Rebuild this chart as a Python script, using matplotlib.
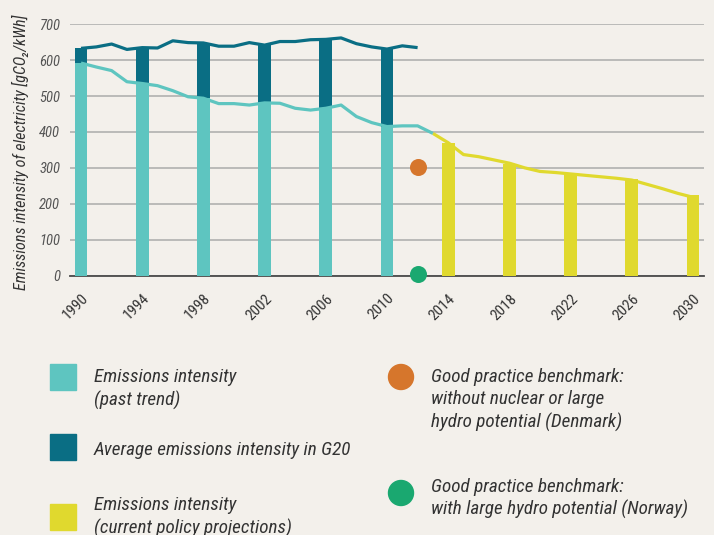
import numpy as np
import matplotlib
matplotlib.use("Agg")
import matplotlib.pyplot as plt
from matplotlib import font_manager as fm
from matplotlib.transforms import ScaledTranslation
from matplotlib.patches import Rectangle, Ellipse

# ---------------- data ----------------
years_g20 = list(range(1990, 2013))
g20_line = [633, 637, 645, 630, 635, 634, 654, 649, 648, 639, 639, 649, 642,
            652, 652, 657, 658, 662, 646, 637, 631, 640, 635]

years_past = list(range(1990, 2014))
past_line = [592, 581, 571, 540, 535, 529, 515, 498, 494, 479, 479, 475, 481,
             480, 466, 461, 466, 475, 443, 426, 415, 417, 417, 396]

years_proj = list(range(2013, 2031))
proj_line = [396, 370, 337, 331, 322, 313, 300, 290, 287, 283, 279, 275, 271,
             266, 254, 242, 229, 218]

bar_years_past = [1990, 1994, 1998, 2002, 2006, 2010]
bar_past = [593, 535, 495, 481, 468, 414]
bar_g20_top = [633, 636, 648, 643, 659, 631]

bar_years_proj = [2014, 2018, 2022, 2026, 2030]
bar_proj = [368, 312, 285, 269, 224]

bench_year = [2012]
bench_denmark = [301]
bench_norway = [5]

xtick_years = [1990, 1994, 1998, 2002, 2006, 2010, 2014, 2018, 2022, 2026, 2030]
yticks = [0, 100, 200, 300, 400, 500, 600, 700]

# ---------------- style ----------------
names = {f.name for f in fm.fontManager.ttflist}
fam = next((n for n in ['Liberation Sans Narrow', 'Roboto Condensed',
                        'Open Sans Condensed', 'Liberation Sans'] if n in names), 'DejaVu Sans')
plt.rcParams['font.family'] = [fam, 'DejaVu Sans']

BG = '#F3F0EB'
LIGHT = '#5EC5C0'
DARK = '#0A6E84'
YEL = '#E0D92E'
ORANGE = '#D6762C'
GREEN = '#1AA870'
TXT = '#333333'

W, H = 714, 535
fig = plt.figure(figsize=(W / 100, H / 100), dpi=100, facecolor=BG)
ax = fig.add_axes([70 / W, 1 - 275.5 / H, (704 - 70) / W, (275.5 - 24.3) / H])
ax.set_facecolor(BG)

bw = 0.83
ax.bar(bar_years_past, bar_past, width=bw, color=LIGHT, zorder=3)
ax.bar(bar_years_past, np.array(bar_g20_top) - np.array(bar_past), bottom=bar_past,
       width=bw, color=DARK, zorder=3)
ax.bar(bar_years_proj, bar_proj, width=bw, color=YEL, zorder=3)

ax.plot(years_proj, proj_line, color=YEL, lw=2.3, zorder=4, solid_capstyle='butt')
ax.plot(years_past, past_line, color=LIGHT, lw=2.3, zorder=4, solid_capstyle='butt')
ax.plot(years_g20, g20_line, color=DARK, lw=2.3, zorder=4, solid_capstyle='butt')

ax.scatter(bench_year, bench_denmark, s=150, color=ORANGE, zorder=5, linewidths=0, clip_on=False)
ax.scatter(bench_year, bench_norway, s=150, color=GREEN, zorder=5, linewidths=0, clip_on=False)

ax.set_xlim(1989.28, 2030.72)
ax.set_ylim(0, 700)
ax.set_yticks(yticks)
ax.set_yticklabels([str(v) for v in yticks], fontsize=10.5, style='italic', color='#555555')
ax.tick_params(axis='y', length=0, pad=7)
ax.yaxis.grid(True, color='#ABABAB', lw=1.1, zorder=0)
ax.set_axisbelow(True)
for s in ['top', 'right', 'left']:
    ax.spines[s].set_visible(False)
ax.spines['bottom'].set_color('#4A4A4A')
ax.spines['bottom'].set_linewidth(1.3)
ax.spines['bottom'].set_zorder(2)

ax.set_xticks(xtick_years)
ax.set_xticklabels([str(y) for y in xtick_years], fontsize=11, color=TXT)
ax.tick_params(axis='x', length=0, pad=15)
off = ScaledTranslation(5 / 100, 0, fig.dpi_scale_trans)
for lab in ax.get_xticklabels():
    lab.set_rotation(45)
    lab.set_ha('right')
    lab.set_va('center')
    lab.set_rotation_mode('anchor')
    lab.set_transform(lab.get_transform() + off)

fig.text(20 / W, 1 - 152 / H, 'Emissions intensity of electricity [gCO\u2082/kWh]',
         rotation=90, ha='center', va='center', fontsize=11.6, style='italic', color=TXT)

# ---------------- legend ----------------
def fx(x):
    return x / W


def fy(y):
    return 1 - y / H


for (y0, col) in [(364, LIGHT), (434, DARK), (504, YEL)]:
    fig.patches.append(Rectangle((fx(50), fy(y0 + 26)), 26 / W, 26 / H,
                                 transform=fig.transFigure, color=col))
for (yc, col) in [(377, ORANGE), (493, GREEN)]:
    fig.patches.append(Ellipse((fx(401), fy(yc)), 25 / W, 25 / H,
                               transform=fig.transFigure, color=col))

leg_fs = 13.8
left_texts = [(377, 'Emissions intensity'), (400, '(past trend)'),
              (450, 'Average emissions intensity in G20'),
              (505, 'Emissions intensity'), (528, '(current policy projections)')]
for y, t in left_texts:
    fig.text(fx(94), fy(y), t, ha='left', va='center', fontsize=leg_fs, style='italic', color=TXT)

right_texts = [(377, 'Good practice benchmark:'), (399, 'without nuclear or large'),
               (422, 'hydro potential (Denmark)'),
               (487, 'Good practice benchmark:'), (509, 'with large hydro potential (Norway)')]
for y, t in right_texts:
    fig.text(fx(431), fy(y), t, ha='left', va='center', fontsize=leg_fs, style='italic', color=TXT)

fig.savefig('out.png', dpi=100, facecolor=BG)
